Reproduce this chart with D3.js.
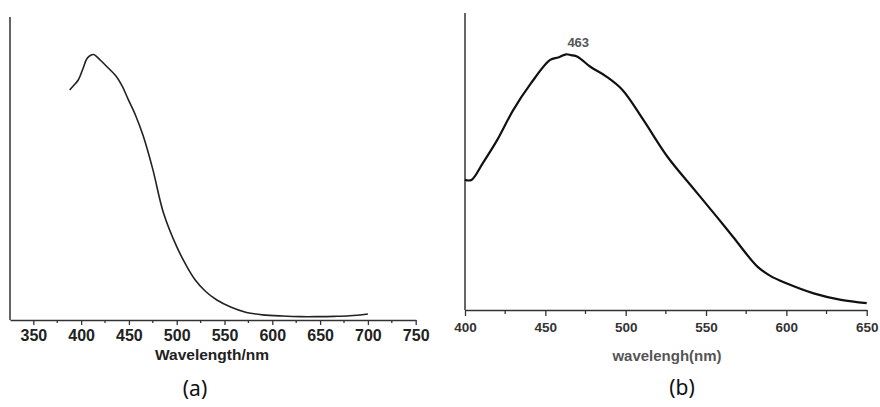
<!DOCTYPE html>
<html lang="en">
<head>
<meta charset="UTF-8">
<style>
  body { margin: 0; background: #fff; }
  svg text { font-family: "Liberation Sans", Arial, sans-serif; }
</style>
</head>
<body>
<script src="https://d3js.org/d3.v7.min.js"></script>
<script>
// panel (a): absorption
var absWl  = [388, 392, 397, 402, 406, 410, 413, 416, 420, 427, 437, 443, 449, 457, 465, 475, 486, 500, 510, 519, 530, 542, 557, 573, 590, 611, 630, 646, 665, 681, 700]
var absVal = [0.759, 0.773, 0.792, 0.830, 0.862, 0.874, 0.876, 0.870, 0.858, 0.836, 0.803, 0.772, 0.730, 0.675, 0.607, 0.497, 0.355, 0.242, 0.180, 0.134, 0.095, 0.066, 0.042, 0.025, 0.017, 0.013, 0.011, 0.011, 0.012, 0.014, 0.020]
var absTicks = [350, 400, 450, 500, 550, 600, 650, 700, 750]

// panel (b): emission
var emWl  = [400, 404, 411, 420, 430, 441, 453, 458, 463, 466, 470, 478, 488, 498, 511, 526, 542, 557, 567, 582, 590, 600, 617, 634, 650]
var emVal = [0.438, 0.438, 0.494, 0.572, 0.673, 0.763, 0.842, 0.850, 0.861, 0.858, 0.853, 0.819, 0.786, 0.741, 0.640, 0.516, 0.410, 0.312, 0.245, 0.146, 0.115, 0.090, 0.056, 0.034, 0.023]
var emTicks = [400, 450, 500, 550, 600, 650]
var peakWl = 463

var svg = d3.select('body').append('svg')
    .attr('width', 880)
    .attr('height', 407)

// ---------- (a) ----------
var xa = d3.scaleLinear().domain([325.6, 750]).range([10, 415.7])
var ya = d3.scaleLinear().domain([0, 1]).range([320, 17])
var ga = svg.append('g')

ga.append('line').attr('x1', 10).attr('x2', 10).attr('y1', 17).attr('y2', 320)
    .attr('stroke', '#333').attr('stroke-width', 1.5)

var axA = ga.append('g').attr('transform', 'translate(0,320)')
    .call(d3.axisBottom(xa).tickValues(absTicks).tickSize(5).tickSizeOuter(0).tickPadding(5))
axA.select('.domain').attr('stroke', '#333').attr('stroke-width', 1.5)
axA.selectAll('.tick line').attr('stroke', '#333').attr('stroke-width', 1.3)
axA.selectAll('text')
    .style('font-size', '16px').style('font-weight', 'bold').style('fill', '#222')
    .style('font-family', '"Liberation Sans", Arial, sans-serif')
axA.selectAll('.minor').data(d3.range(375, 750, 50)).enter().append('line')
    .attr('x1', d => xa(d)).attr('x2', d => xa(d)).attr('y1', 0).attr('y2', 3)
    .attr('stroke', '#333').attr('stroke-width', 1.3)

ga.append('text').attr('x', 212).attr('y', 360).attr('text-anchor', 'middle')
    .style('font-size', '15.5px').style('font-weight', 'bold').style('fill', '#222')
    .text('Wavelength/nm')

ga.append('path')
    .datum(absWl.map((d, i) => [d, absVal[i]]))
    .attr('fill', 'none').attr('stroke', '#222').attr('stroke-width', 1.6)
    .attr('d', d3.line().x(d => xa(d[0])).y(d => ya(d[1])).curve(d3.curveCatmullRom))

svg.append('text').attr('x', 195).attr('y', 396).attr('text-anchor', 'middle')
    .style('font-size', '21px').style('font-family', '"Noto Sans", sans-serif').style('fill', '#111')
    .text('(a)')

// ---------- (b) ----------
var xb = d3.scaleLinear().domain([400, 650]).range([465, 866.7])
var yb = d3.scaleLinear().domain([0, 1]).range([310, 13])
var gb = svg.append('g')

gb.append('line').attr('x1', 465).attr('x2', 465).attr('y1', 13).attr('y2', 310)
    .attr('stroke', '#333').attr('stroke-width', 1.5)

var axB = gb.append('g').attr('transform', 'translate(0,310)')
    .call(d3.axisBottom(xb).tickValues(emTicks).tickSize(6).tickSizeOuter(0).tickPadding(6))
axB.select('.domain').attr('stroke', '#333').attr('stroke-width', 1.5)
axB.selectAll('.tick line').attr('stroke', '#333').attr('stroke-width', 1.3)
axB.selectAll('text')
    .style('font-size', '13.5px').style('font-weight', 'bold').style('fill', '#333')
    .style('font-family', '"Liberation Sans", Arial, sans-serif')
axB.selectAll('.minor').data(d3.range(425, 650, 50)).enter().append('line')
    .attr('x1', d => xb(d)).attr('x2', d => xb(d)).attr('y1', 0).attr('y2', 4)
    .attr('stroke', '#333').attr('stroke-width', 1.3)

gb.append('text').attr('x', 667).attr('y', 361).attr('text-anchor', 'middle')
    .style('font-size', '15px').style('font-weight', 'bold').style('fill', '#555')
    .text('wavelengh(nm)')

gb.append('path')
    .datum(emWl.map((d, i) => [d, emVal[i]]))
    .attr('fill', 'none').attr('stroke', '#111').attr('stroke-width', 2.2)
    .attr('d', d3.line().x(d => xb(d[0])).y(d => yb(d[1])).curve(d3.curveCatmullRom))

gb.append('text').attr('x', xb(peakWl) + 12).attr('y', 47).attr('text-anchor', 'middle')
    .style('font-size', '13px').style('font-weight', 'bold').style('fill', '#555')
    .text(peakWl)

svg.append('text').attr('x', 682).attr('y', 395).attr('text-anchor', 'middle')
    .style('font-size', '21px').style('font-family', '"Noto Sans", sans-serif').style('fill', '#111')
    .text('(b)')
</script>
</body>
</html>
